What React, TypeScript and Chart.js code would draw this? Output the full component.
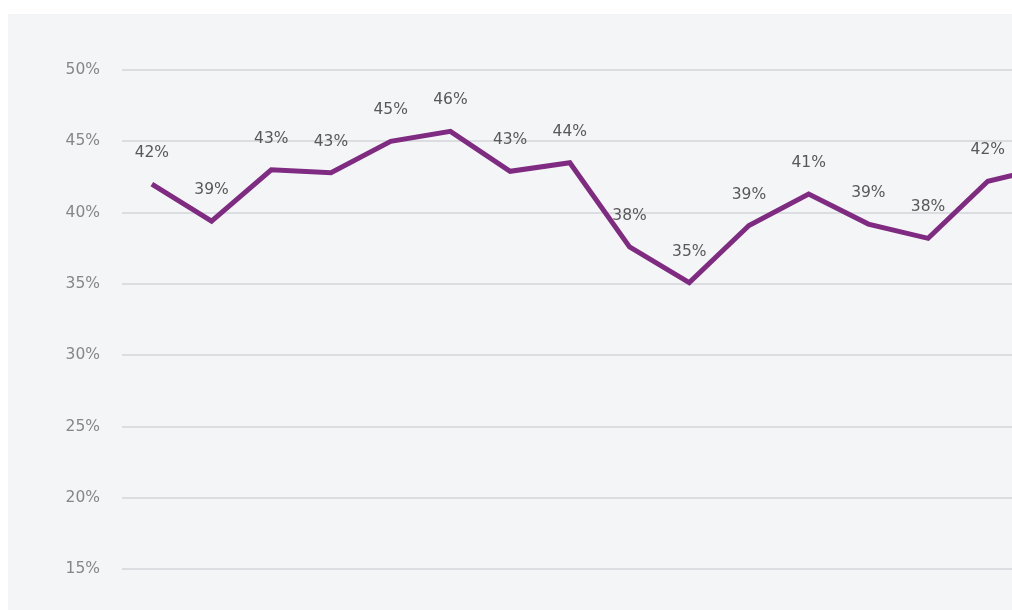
import React, { useEffect, useRef } from "react";
import { Chart, registerables } from "chart.js";

Chart.register(...registerables);

const categories = ["1", "2", "3", "4", "5", "6", "7", "8", "9", "10", "11", "12", "13", "14", "15", "16"];
const shareValues = [42, 39.4, 43, 42.8, 45, 45.7, 42.9, 43.5, 37.6, 35.1, 39.1, 41.3, 39.2, 38.2, 42.2, 43.2];
const yTicks = [15, 20, 25, 30, 35, 40, 45, 50];

const CANVAS_W = 1080;
const CANVAS_H = 640;
const AREA_LEFT = 114;
const STEP = 59.71;
const FONT_FAMILY = "'DejaVu Sans', sans-serif";

const labelPlugin = {
  id: "pointLabels",
  afterDatasetsDraw(chart: any) {
    const ctx = chart.ctx;
    const meta = chart.getDatasetMeta(0);
    ctx.save();
    ctx.font = "15.5px " + FONT_FAMILY;
    ctx.fillStyle = "#585858";
    ctx.textAlign = "center";
    ctx.textBaseline = "middle";
    meta.data.forEach((p: any, i: number) => {
      ctx.fillText(Math.round(shareValues[i]) + "%", p.x, p.y - 31);
    });
    ctx.restore();
  },
};

export default function App() {
  const ref = useRef<HTMLCanvasElement>(null);
  useEffect(() => {
    if (!ref.current) return;
    const areaW = STEP * categories.length;
    const chart = new Chart(ref.current, {
      type: "line",
      data: {
        labels: categories,
        datasets: [
          {
            data: shareValues,
            borderColor: "#7f2b82",
            borderWidth: 5,
            pointRadius: 0,
            tension: 0,
            fill: false,
            borderJoinStyle: "miter",
          } as any,
        ],
      },
      options: {
        responsive: false,
        animation: false,
        layout: {
          padding: {
            left: 0,
            top: 56,
            right: CANVAS_W - AREA_LEFT - areaW,
            bottom: CANVAS_H - 555.3,
          },
        },
        plugins: {
          legend: { display: false },
          tooltip: { enabled: false },
        },
        scales: {
          x: {
            display: false,
            offset: true,
          },
          y: {
            min: 15,
            max: 50,
            afterFit(scale: any) {
              scale.width = AREA_LEFT;
            },
            afterBuildTicks(scale: any) {
              scale.ticks = yTicks.map((v) => ({ value: v }));
            },
            border: { display: false },
            grid: {
              color: "#dcdde0",
              lineWidth: 2,
              drawTicks: false,
            },
            ticks: {
              padding: 22,
              color: "#868686",
              font: { family: FONT_FAMILY, size: 15.5 },
              callback: (v: any) => v + "%",
            },
          },
        },
      },
      plugins: [labelPlugin],
    });
    return () => chart.destroy();
  }, []);

  return (
    <div
      style={{
        position: "absolute",
        left: 8,
        top: 14,
        width: 1004,
        height: 596,
        overflow: "hidden",
        background: "#f4f5f7",
      }}
    >
      <canvas
        ref={ref}
        width={CANVAS_W}
        height={CANVAS_H}
        style={{ display: "block", width: CANVAS_W, height: CANVAS_H }}
      />
    </div>
  );
}
